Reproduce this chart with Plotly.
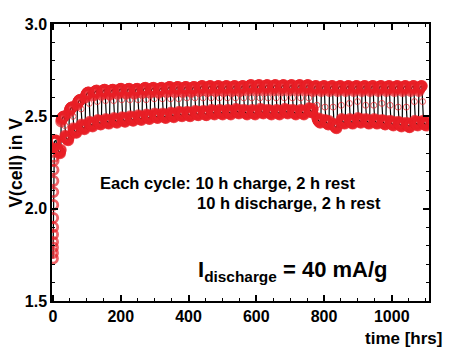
import plotly.graph_objects as go

# ---- data ----
cycle_hours = 24  # 10 h charge, 2 h rest, 10 h discharge, 2 h rest
# end-of-charge voltage of each cycle (V)
charge_top = [2.37, 2.50, 2.55, 2.59, 2.63, 2.64, 2.645, 2.645, 2.65, 2.65,
              2.65, 2.655, 2.655, 2.655, 2.66, 2.66, 2.66, 2.66, 2.665, 2.665,
              2.665, 2.665, 2.665, 2.665, 2.67, 2.67, 2.67, 2.67, 2.67, 2.67,
              2.67, 2.67, 2.665, 2.665, 2.665, 2.665, 2.665, 2.665, 2.665, 2.665,
              2.665, 2.665, 2.665, 2.665, 2.665, 2.665]
# end-of-discharge voltage of each cycle (V)
discharge_bottom = [2.30, 2.37, 2.41, 2.43, 2.445, 2.455, 2.46, 2.465, 2.47, 2.475,
                    2.48, 2.485, 2.49, 2.49, 2.495, 2.50, 2.50, 2.505, 2.505, 2.51,
                    2.51, 2.51, 2.515, 2.51, 2.51, 2.515, 2.51, 2.51, 2.515, 2.51,
                    2.51, 2.52, 2.465, 2.455, 2.435, 2.46, 2.46, 2.465, 2.46, 2.46,
                    2.455, 2.45, 2.445, 2.44, 2.45, 2.45]
# rest voltage after charge (open circles in the middle)
rest_after_charge = [2.33, 2.45, 2.50, 2.54, 2.57, 2.58, 2.585, 2.585, 2.59, 2.59,
                     2.59, 2.59, 2.595, 2.595, 2.595, 2.595, 2.60, 2.60, 2.60, 2.60,
                     2.60, 2.60, 2.60, 2.60, 2.60, 2.60, 2.60, 2.60, 2.60, 2.60,
                     2.60, 2.60, 2.56, 2.55, 2.55, 2.56, 2.57, 2.58, 2.56, 2.56,
                     2.57, 2.56, 2.55, 2.55, 2.58, 2.58]
# shape of one cycle (hourly offsets)
charge_shape = [-0.028, -0.018, -0.013, -0.010, -0.007, -0.005, -0.003, -0.002, -0.001, 0.0]
rest_charge_shape = [0.0]
discharge_shape = [0.026, 0.021, 0.017, 0.014, 0.011, 0.009, 0.007, 0.005, 0.002, 0.0]
rest_discharge_shape = [0.015, 0.020]
# very first points of the run (t in h, V)
start_t = [0, 0.1, 0.2, 0.3, 0.4, 0.5, 0.6, 0.8, 1.0, 1.2, 1.5, 1.8, 2.0]
start_v = [1.73, 1.76, 1.79, 1.82, 1.86, 1.90, 1.95, 2.02, 2.09, 2.15, 2.21, 2.26, 2.28]

BAND, REST = 0, 1
xt = list(start_t)
yv = list(start_v)
kind = [BAND] * len(start_t)
for k in range(len(charge_top)):
    t0 = k * cycle_hours
    for i, d in enumerate(charge_shape):
        if k == 0 and i < 3:
            continue
        xt.append(t0 + i); yv.append(charge_top[k] + d); kind.append(BAND)
    for i, d in enumerate(rest_charge_shape):
        xt.append(t0 + 11 + i); yv.append(rest_after_charge[k] + d); kind.append(REST)
    for i, d in enumerate(discharge_shape):
        xt.append(t0 + 12 + i); yv.append(discharge_bottom[k] + d); kind.append(BAND)
    for i, d in enumerate(rest_discharge_shape):
        xt.append(t0 + 22 + i); yv.append(discharge_bottom[k] + d); kind.append(BAND)

msize = [9 if c == BAND else 6 for c in kind]
mwidth = [2.8 if c == BAND else 1.0 for c in kind]

red = "rgb(232,32,38)"
fig = go.Figure()
fig.add_trace(go.Scatter(
    x=xt, y=yv, mode="lines+markers",
    line=dict(color="black", width=1.2),
    marker=dict(symbol="circle-open", size=msize, color=red,
                line=dict(color=red, width=mwidth)),
    showlegend=False))

font_b = "Liberation Sans, Arial, sans-serif"
axis_common = dict(showline=True, linecolor="black", linewidth=1.5, mirror="ticks",
                   ticks="inside", ticklen=6, tickwidth=1.5, tickcolor="black",
                   showgrid=False, zeroline=False,
                   tickfont=dict(family=font_b, size=16, color="black", weight="bold"))
fig.update_xaxes(range=[-3, 1110], tickvals=[0, 200, 400, 600, 800, 1000],
                 minor=dict(dtick=50, tick0=0, ticks="inside", ticklen=3, tickwidth=1, tickcolor="black"),
                 **axis_common)
fig.update_yaxes(range=[1.5, 3.0], tickvals=[1.5, 2.0, 2.5, 3.0], ticktext=["1.5", "2.0", "2.5", "3.0"],
                 minor=dict(dtick=0.1, tick0=1.5, ticks="inside", ticklen=3, tickwidth=1, tickcolor="black"),
                 **axis_common)

fig.update_layout(
    width=451, height=353,
    margin=dict(l=52, r=22, t=24, b=52),
    paper_bgcolor="white", plot_bgcolor="white",
    annotations=[
        dict(text="V(cell) in V", xref="paper", yref="paper", x=-0.098, y=0.5,
             textangle=-90, showarrow=False, xanchor="center", yanchor="middle",
             font=dict(family=font_b, size=17.5, color="black", weight="bold")),
        dict(text="time [hrs]", xref="paper", yref="paper", x=1.04, y=-0.095,
             showarrow=False, xanchor="right", yanchor="top",
             font=dict(family=font_b, size=17, color="black", weight="bold")),
        dict(text="Each cycle: 10 h charge, 2 h rest", xref="x", yref="y", x=133, y=2.139,
             showarrow=False, xanchor="left", yanchor="middle",
             font=dict(family=font_b, size=16.5, color="black", weight="bold")),
        dict(text="10 h discharge, 2 h rest", xref="x", yref="y", x=419, y=2.031,
             showarrow=False, xanchor="left", yanchor="middle",
             font=dict(family=font_b, size=16.5, color="black", weight="bold")),
        dict(text="I<sub>discharge</sub> = 40 mA/g", xref="x", yref="y", x=421, y=1.665,
             showarrow=False, xanchor="left", yanchor="middle",
             font=dict(family=font_b, size=22, color="black", weight="bold")),
    ])

fig.write_html("out.html")
